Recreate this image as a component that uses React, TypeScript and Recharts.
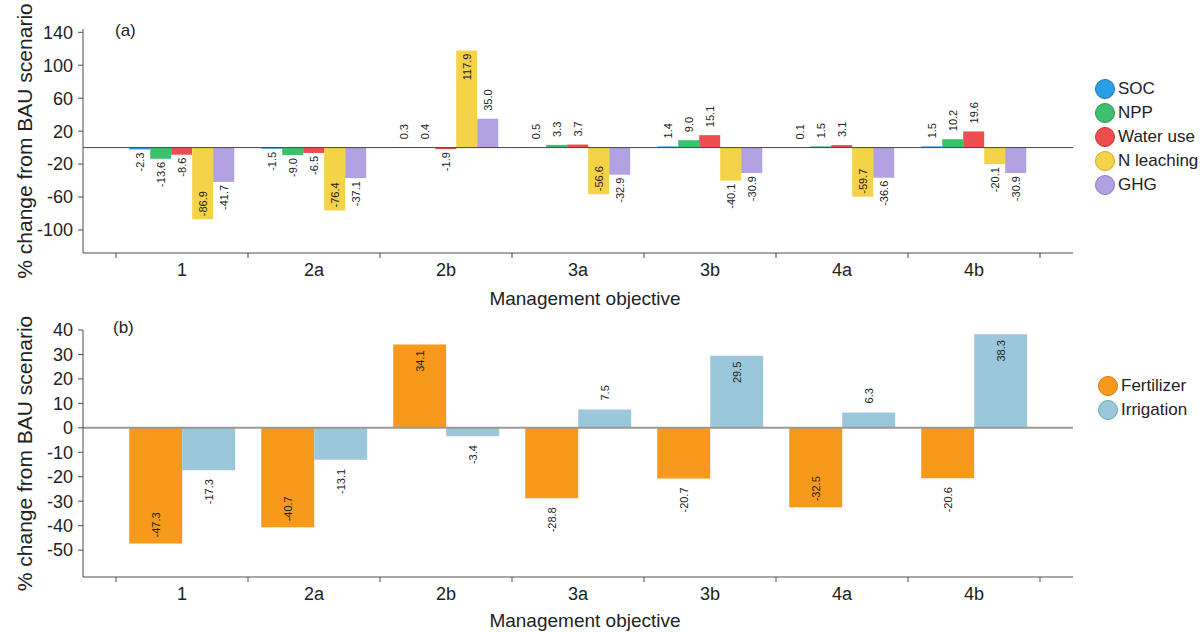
import { BarChart, Bar, XAxis, YAxis, ReferenceLine, LabelList } from "recharts";

const categories = ["1", "2a", "2b", "3a", "3b", "4a", "4b"];

// panel (a): % change of each indicator
const soc = [-2.3, -1.5, 0.3, 0.5, 1.4, 0.1, 1.5];
const npp = [-13.6, -9.0, 0.4, 3.3, 9.0, 1.5, 10.2];
const waterUse = [-8.6, -6.5, -1.9, 3.7, 15.1, 3.1, 19.6];
const nLeaching = [-86.9, -76.4, 117.9, -56.6, -40.1, -59.7, -20.1];
const ghg = [-41.7, -37.1, 35.0, -32.9, -30.9, -36.6, -30.9];

// panel (b): % change of inputs
const fertilizer = [-47.3, -40.7, 34.1, -28.8, -20.7, -32.5, -20.6];
const irrigation = [-17.3, -13.1, -3.4, 7.5, 29.5, 6.3, 38.3];

const ticksA = [140, 100, 60, 20, -20, -60, -100];
const ticksB = [40, 30, 20, 10, 0, -10, -20, -30, -40, -50];

const seriesA = [
  { key: "SOC", values: soc, fill: "#2b9fe6", edge: "#1c78b4" },
  { key: "NPP", values: npp, fill: "#3dbf6e", edge: "#2a9552" },
  { key: "Water use", values: waterUse, fill: "#ee4d50", edge: "#bf3336" },
  { key: "N leaching", values: nLeaching, fill: "#f4d348", edge: "#c9a92c" },
  { key: "GHG", values: ghg, fill: "#b1a1e0", edge: "#8b7cc0" },
];
const seriesB = [
  { key: "Fertilizer", values: fertilizer, fill: "#f7991b", edge: "#d07a10" },
  { key: "Irrigation", values: irrigation, fill: "#9bc7da", edge: "#5fb0a0" },
];

const rowsA = categories.map((c, i) => {
  const row: Record<string, any> = { name: c };
  seriesA.forEach((s) => (row[s.key] = s.values[i]));
  return row;
});
const rowsB = categories.map((c, i) => {
  const row: Record<string, any> = { name: c };
  seriesB.forEach((s) => (row[s.key] = s.values[i]));
  return row;
});

const FONT = '"Liberation Sans", Arial, sans-serif';
const AXIS = "#4d4d4d";
const TEXT = "#222";

const W = 1202;
const H = 316;
const Y_AXIS_W = 83;
const MARGIN_RIGHT = 129;
const PAD = 33;
const BAND = (W - Y_AXIS_W - MARGIN_RIGHT - PAD * 2) / categories.length;

// category label in the middle, tick marks on the band edges
function CategoryTick(props: any) {
  const { x, y, payload, index } = props;
  const half = BAND / 2;
  return (
    <g>
      <line x1={x - half} x2={x - half} y1={y} y2={y + 5} stroke={AXIS} />
      {index === categories.length - 1 && (
        <line x1={x + half} x2={x + half} y1={y} y2={y + 5} stroke={AXIS} />
      )}
      <text
        x={x}
        y={y + 17}
        textAnchor="middle"
        dominantBaseline="central"
        fontSize={18}
        fontFamily={FONT}
        fill={TEXT}
      >
        {payload.value}
      </text>
    </g>
  );
}

function xTitle(dy: number) {
  return (props: any) => {
    const vb = props.viewBox;
    return (
      <text
        x={vb.x + vb.width / 2 + 7}
        y={vb.y + dy}
        textAnchor="middle"
        dominantBaseline="central"
        fontSize={19}
        fontFamily={FONT}
        fill={TEXT}
      >
        Management objective
      </text>
    );
  };
}

function yTitle(props: any) {
  const vb = props.viewBox;
  const cx = 24;
  const cy = vb.y + vb.height / 2;
  return (
    <text
      x={cx}
      y={cy}
      transform={`rotate(-90, ${cx}, ${cy})`}
      textAnchor="middle"
      dominantBaseline="central"
      fontSize={21}
      fontFamily={FONT}
      fill={TEXT}
    >
      % change from BAU scenario
    </text>
  );
}

// vertical value label: inside the bar end for long bars, beyond it otherwise
function valueLabel(threshold: number, gapUp: number, gapDown: number, gapIn: number) {
  return (props: any) => {
    const { x, y, width, height, value } = props;
    if (value == null) return null;
    const v = Number(value);
    const top = Math.min(y, y + height);
    const bottom = Math.max(y, y + height);
    const end = v >= 0 ? top : bottom;
    const inside = Math.abs(v) > threshold;
    const cx = x + width / 2;
    let ay: number;
    let anchor: "start" | "end";
    if (v >= 0) {
      ay = inside ? end + gapIn : end - gapUp;
      anchor = inside ? "end" : "start";
    } else {
      ay = inside ? end - gapIn : end + gapDown;
      anchor = inside ? "start" : "end";
    }
    return (
      <text
        x={cx}
        y={ay}
        transform={`rotate(-90, ${cx}, ${ay})`}
        textAnchor={anchor}
        dominantBaseline="central"
        fontSize={11}
        fontFamily={FONT}
        fill={TEXT}
      >
        {v.toFixed(1)}
      </text>
    );
  };
}

function LegendBox({ items, left, top }: { items: typeof seriesA; left: number; top: number }) {
  return (
    <div style={{ position: "absolute", left, top, fontFamily: FONT, fontSize: 17, color: TEXT }}>
      {items.map((s) => (
        <div key={s.key} style={{ display: "flex", alignItems: "center", height: 24 }}>
          <span
            style={{
              width: 18,
              height: 18,
              borderRadius: "50%",
              background: s.fill,
              border: `1px solid ${s.edge}`,
              marginRight: 3,
            }}
          />
          <span style={{ whiteSpace: "nowrap" }}>{s.key}</span>
        </div>
      ))}
    </div>
  );
}

function PanelLetter({ text, left, top }: { text: string; left: number; top: number }) {
  return (
    <div style={{ position: "absolute", left, top, fontFamily: FONT, fontSize: 17, color: TEXT, lineHeight: "20px" }}>
      {text}
    </div>
  );
}

export default function App() {
  return (
    <div style={{ position: "absolute", left: 0, top: 0, width: W, height: 632, background: "#fff" }}>
      <div style={{ position: "absolute", left: 0, top: 0 }}>
        <BarChart
          width={W}
          height={H}
          data={rowsA}
          margin={{ top: 29, right: MARGIN_RIGHT, bottom: 0, left: 0 }}
          barCategoryGap="10%"
          barGap={0}
        >
          <XAxis
            dataKey="name"
            type="category"
            interval={0}
            height={63}
            padding={{ left: PAD, right: PAD }}
            stroke={AXIS}
            tickLine={false}
            tickSize={0}
            tickMargin={0}
            tick={<CategoryTick />}
            label={{ content: xTitle(45) }}
          />
          <YAxis
            width={Y_AXIS_W}
            domain={[-128, 144]}
            ticks={ticksA}
            interval={0}
            allowDataOverflow
            stroke={AXIS}
            tickSize={5}
            tickMargin={5}
            tick={{ fontSize: 18, fontFamily: FONT, fill: TEXT }}
            label={{ content: yTitle }}
          />
          <ReferenceLine y={0} stroke="#444" strokeWidth={1} />
          {seriesA.map((s) => (
            <Bar key={s.key} dataKey={s.key} fill={s.fill} isAnimationActive={false}>
              <LabelList dataKey={s.key} content={valueLabel(50, 8, 3, 3)} />
            </Bar>
          ))}
        </BarChart>
      </div>
      <div style={{ position: "absolute", left: 0, top: H }}>
        <BarChart
          width={W}
          height={H}
          data={rowsB}
          margin={{ top: 14, right: MARGIN_RIGHT, bottom: 0, left: 0 }}
          barCategoryGap="10%"
          barGap={0}
        >
          <XAxis
            dataKey="name"
            type="category"
            interval={0}
            height={55}
            padding={{ left: PAD, right: PAD }}
            stroke={AXIS}
            tickLine={false}
            tickSize={0}
            tickMargin={0}
            tick={<CategoryTick />}
            label={{ content: xTitle(43) }}
          />
          <YAxis
            width={Y_AXIS_W}
            domain={[-61, 40]}
            ticks={ticksB}
            interval={0}
            allowDataOverflow
            stroke={AXIS}
            tickSize={5}
            tickMargin={5}
            tick={{ fontSize: 18, fontFamily: FONT, fill: TEXT }}
            label={{ content: yTitle }}
          />
          <ReferenceLine y={0} stroke="#999" strokeWidth={2} />
          {seriesB.map((s) => (
            <Bar key={s.key} dataKey={s.key} fill={s.fill} isAnimationActive={false}>
              <LabelList dataKey={s.key} content={valueLabel(29, 9, 9, 6)} />
            </Bar>
          ))}
        </BarChart>
      </div>
      <PanelLetter text="(a)" left={115} top={21} />
      <PanelLetter text="(b)" left={113} top={318} />
      <LegendBox items={seriesA} left={1095} top={77} />
      <LegendBox items={seriesB} left={1098} top={374} />
    </div>
  );
}
